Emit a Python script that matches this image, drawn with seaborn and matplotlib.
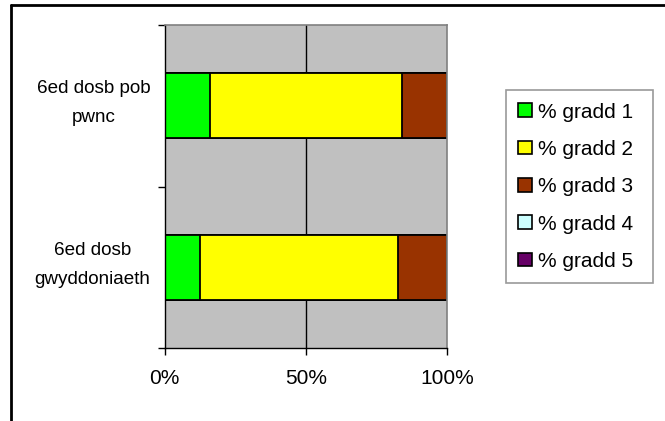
import matplotlib
matplotlib.use("Agg")
import matplotlib.pyplot as plt
import matplotlib.transforms as mtransforms
from matplotlib.lines import Line2D
from matplotlib.patches import Patch
import seaborn as sns
import pandas as pd
import numpy as np

categories = ["6ed dosb pob\npwnc", "6ed dosb\ngwyddoniaeth"]
series_names = ["% gradd 1", "% gradd 2", "% gradd 3", "% gradd 4", "% gradd 5"]
gradd1 = [16.0, 12.5]
gradd2 = [68.0, 70.0]
gradd3 = [16.0, 17.5]
gradd4 = [0.0, 0.0]
gradd5 = [0.0, 0.0]
colors = ["#00FF00", "#FFFF00", "#993300", "#CCFFFF", "#660066"]
x_ticks = [0, 50, 100]
x_labels = ["0%", "50%", "100%"]

sns.set_theme(style="white")
plt.rcParams["font.family"] = ["Liberation Sans", "DejaVu Sans"]
plt.rcParams["text.color"] = "black"
plt.rcParams["xtick.color"] = "black"
plt.rcParams["ytick.color"] = "black"

W, H = 665, 421
fig = plt.figure(figsize=(W / 100, H / 100), dpi=100)
ax = fig.add_axes([164.5 / W, 1 - 348 / H, (447.5 - 164.5) / W, (348 - 25) / H])
ax.set_facecolor("#C0C0C0")

values = np.array([gradd1, gradd2, gradd3, gradd4, gradd5])
cum = np.cumsum(values, axis=0)

ax.axvline(50, color="black", lw=1, zorder=0.5)

for i in range(len(series_names) - 1, -1, -1):
    df = pd.DataFrame({"cat": categories, "val": cum[i]})
    sns.barplot(data=df, x="val", y="cat", orient="h", color=colors[i],
                width=0.4, edgecolor="black", linewidth=1.3, saturation=1,
                ax=ax, zorder=2)

ax.set_xlim(0, 100)
ax.set_ylim(1.5, -0.5)
ax.set_xlabel("")
ax.set_ylabel("")

ax.set_xticks(x_ticks)
ax.set_xticklabels(x_labels, fontsize=15, color="black")
ax.set_yticks([0, 1])
ax.set_yticklabels(categories, fontsize=13.6, color="black",
                   multialignment="center", linespacing=1.95)
ax.set_yticks([-0.5, 0.5, 1.5], minor=True)
ax.tick_params(axis="y", which="major", length=0, pad=10)
ax.tick_params(axis="y", which="minor", length=5, width=1, color="black", left=True, direction="out")
ax.tick_params(axis="x", which="major", length=5, width=1, color="black", bottom=True, direction="out", pad=10)
for lab in ax.get_yticklabels():
    lab.set_verticalalignment("center")
    lab.set_transform(lab.get_transform() + mtransforms.ScaledTranslation(0, 2.5 / 100, fig.dpi_scale_trans))

for s in ["left", "bottom"]:
    ax.spines[s].set_color("black")
    ax.spines[s].set_linewidth(1)
for s in ["top", "right"]:
    ax.spines[s].set_color("#808080")
    ax.spines[s].set_linewidth(1.2)
ax.grid(False)

handles = [Patch(facecolor=c, edgecolor="black", linewidth=1.2) for c in colors]
leg = fig.legend(handles, series_names, loc="upper left", mode="expand",
                 bbox_to_anchor=(505.7 / W, 1 - 282 / H, (653 - 505.7) / W, (282 - 90) / H),
                 bbox_transform=fig.transFigure,
                 fontsize=15, frameon=True, fancybox=False, handlelength=0.65,
                 handleheight=0.65, handletextpad=0.3, labelspacing=0.88,
                 borderpad=0.6, borderaxespad=0)
leg.get_frame().set_edgecolor("#808080")
leg.get_frame().set_linewidth(1.2)

# chart outer border (extends past the canvas on right and bottom)
fig.add_artist(Line2D([11 / W, 11 / W], [1 - 5 / H, -0.1], transform=fig.transFigure, color="black", lw=2))
fig.add_artist(Line2D([11 / W, 1.1], [1 - 5 / H, 1 - 5 / H], transform=fig.transFigure, color="black", lw=2))

fig.savefig("out.png", dpi=100)
